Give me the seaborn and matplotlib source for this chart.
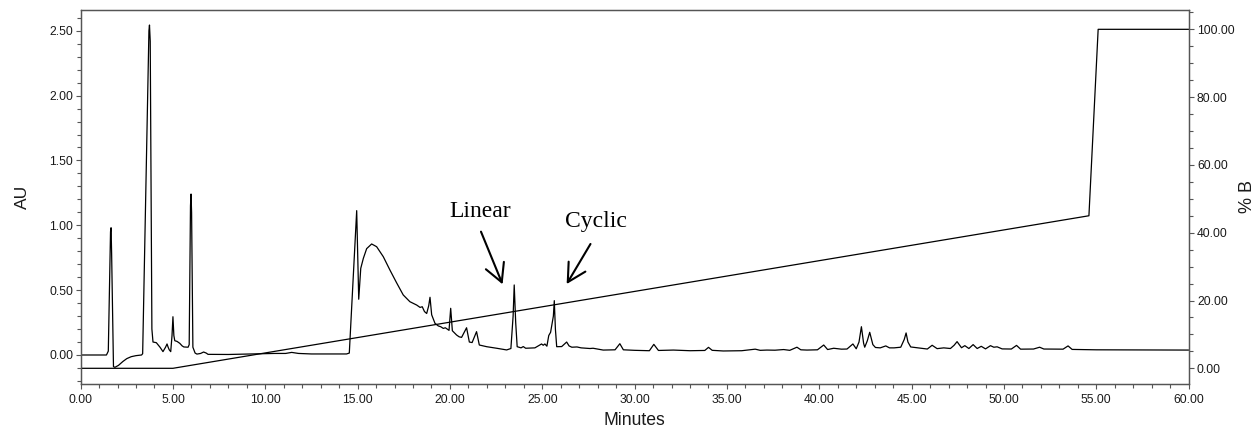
import matplotlib
matplotlib.use("Agg")
import matplotlib.pyplot as plt
import numpy as np
import pandas as pd
import seaborn as sns
from matplotlib.ticker import MultipleLocator, FormatStrFormatter

# ---- data ----
time_min = [
    0.00, 1.40, 1.50, 1.62, 1.65, 1.68, 1.78, 1.86, 2.05, 2.29, 2.50, 2.74, 3.00, 3.30,
    3.36, 3.70, 3.73, 3.77, 3.86, 3.92, 4.10, 4.30, 4.46, 4.60, 4.68, 4.74, 4.80, 4.88,
    4.95, 5.00, 5.05, 5.10, 5.22, 5.37, 5.50, 5.59, 5.82, 5.88, 5.95, 5.98, 6.01, 6.08,
    6.20, 6.30, 6.50, 6.66, 6.80, 6.90, 8.00, 9.35, 10.50, 11.10, 11.43, 11.80, 12.50,
    14.40, 14.55, 14.80, 14.95, 15.00, 15.06, 15.17, 15.31, 15.49, 15.76, 16.03, 16.39,
    16.75, 17.11, 17.47, 17.83, 18.20, 18.38, 18.50, 18.62, 18.74, 18.85, 18.92, 19.01,
    19.19, 19.37, 19.50, 19.64, 19.75, 19.95, 20.04, 20.13, 20.36, 20.50, 20.63, 20.90,
    21.05, 21.20, 21.44, 21.59, 21.99, 22.53, 23.07, 23.30, 23.42, 23.48, 23.56, 23.64,
    23.85, 23.97, 24.10, 24.60, 24.96, 25.05, 25.14, 25.25, 25.35, 25.45, 25.60, 25.65,
    25.71, 25.78, 26.05, 26.32, 26.45, 26.60, 26.88, 27.10, 27.58, 27.75, 28.30, 28.94,
    29.20, 29.39, 30.00, 30.80, 31.04, 31.29, 32.10, 33.00, 33.80, 34.00, 34.20, 34.80,
    35.80, 36.53, 36.80, 37.16, 37.60, 38.07, 38.40, 38.79, 39.00, 39.33, 39.90, 40.24,
    40.45, 40.78, 41.20, 41.50, 41.82, 42.00, 42.15, 42.28, 42.40, 42.46, 42.60, 42.73,
    42.90, 43.04, 43.30, 43.60, 43.80, 44.05, 44.41, 44.60, 44.70, 44.80, 44.95, 45.85,
    46.11, 46.38, 46.74, 47.10, 47.30, 47.46, 47.70, 47.88, 48.10, 48.33, 48.55, 48.77,
    49.00, 49.27, 49.45, 49.63, 49.90, 50.40, 50.68, 50.90, 51.60, 51.93, 52.16, 53.20,
    53.47, 53.69, 55.00, 60.00,
]
absorbance_au = [
    0.000, 0.000, 0.030, 0.950, 0.981, 0.780, -0.090, -0.095, -0.080, -0.050, -0.028, -0.013, -0.005, 0.000,
    0.010, 2.500, 2.544, 2.420, 0.200, 0.100, 0.095, 0.060, 0.026, 0.060, 0.085, 0.060, 0.040, 0.026,
    0.150, 0.295, 0.150, 0.110, 0.105, 0.090, 0.070, 0.062, 0.060, 0.080, 1.150, 1.241, 1.100, 0.060,
    0.015, 0.007, 0.012, 0.023, 0.015, 0.005, 0.004, 0.008, 0.012, 0.012, 0.020, 0.012, 0.008,
    0.008, 0.015, 0.700, 1.113, 0.800, 0.430, 0.668, 0.745, 0.820, 0.856, 0.835, 0.758,
    0.655, 0.557, 0.463, 0.411, 0.385, 0.367, 0.372, 0.335, 0.320, 0.380, 0.445, 0.310,
    0.244, 0.224, 0.218, 0.205, 0.210, 0.190, 0.360, 0.187, 0.154, 0.140, 0.136, 0.210,
    0.100, 0.096, 0.180, 0.077, 0.064, 0.052, 0.039, 0.050, 0.300, 0.540, 0.250, 0.064,
    0.055, 0.065, 0.052, 0.055, 0.085, 0.075, 0.085, 0.068, 0.150, 0.175, 0.300, 0.419,
    0.200, 0.064, 0.065, 0.100, 0.070, 0.060, 0.062, 0.055, 0.050, 0.052, 0.038, 0.040,
    0.087, 0.040, 0.036, 0.033, 0.082, 0.035, 0.038, 0.033, 0.035, 0.059, 0.036, 0.031,
    0.033, 0.045, 0.036, 0.038, 0.037, 0.042, 0.036, 0.060, 0.040, 0.038, 0.040, 0.077,
    0.042, 0.052, 0.045, 0.046, 0.085, 0.048, 0.100, 0.218, 0.090, 0.060, 0.110, 0.175,
    0.080, 0.058, 0.055, 0.070, 0.055, 0.055, 0.060, 0.120, 0.170, 0.100, 0.062, 0.046,
    0.075, 0.049, 0.055, 0.050, 0.075, 0.103, 0.056, 0.072, 0.050, 0.080, 0.050, 0.067,
    0.047, 0.072, 0.060, 0.063, 0.047, 0.046, 0.074, 0.045, 0.046, 0.060, 0.046, 0.045,
    0.070, 0.043, 0.040, 0.038,
]

gradient_time = [0.0, 5.0, 54.6, 55.1, 60.0]
gradient_pct_b = [0.0, 0.0, 45.0, 100.0, 100.0]

x_ticks = [0, 5, 10, 15, 20, 25, 30, 35, 40, 45, 50, 55, 60]
au_ticks = [0.0, 0.5, 1.0, 1.5, 2.0, 2.5]
pct_ticks = [0, 20, 40, 60, 80, 100]

annotation_labels = ["Linear", "Cyclic"]
annotation_text_pos = [(21.63, 1.066), (27.88, 0.989)]
annotation_arrow_start = [(21.68, 0.951), (27.61, 0.856)]
annotation_arrow_tip = [(22.85, 0.545), (26.32, 0.547)]

trace_df = pd.DataFrame({"Minutes": time_min, "AU": absorbance_au})
grad_df = pd.DataFrame({"Minutes": gradient_time, "% B": gradient_pct_b})

# ---- style ----
sns.set_theme(style="ticks")
plt.rcParams["font.family"] = ["Liberation Sans", "DejaVu Sans"]

spine_col = "#555555"
text_col = "#1a1a1a"

fig = plt.figure(figsize=(12.6, 4.29), dpi=100)
ax = fig.add_axes([0.06397, 0.1049, 0.8794, 0.8718])
ax2 = ax.twinx()

sns.lineplot(data=trace_df, x="Minutes", y="AU", ax=ax, color="black",
             linewidth=0.9, estimator=None, sort=False)
sns.lineplot(data=grad_df, x="Minutes", y="% B", ax=ax2, color="black",
             linewidth=0.9, estimator=None, sort=False)

ax.set_xlim(0, 60)
ax.set_ylim(-0.2236, 2.660)
ax2.set_ylim(-4.63, 105.7)

ax.set_xticks(x_ticks)
ax.xaxis.set_minor_locator(MultipleLocator(1))
ax.xaxis.set_major_formatter(FormatStrFormatter("%.2f"))
ax.set_yticks(au_ticks)
ax.yaxis.set_minor_locator(MultipleLocator(0.1))
ax.yaxis.set_major_formatter(FormatStrFormatter("%.2f"))
ax2.set_yticks(pct_ticks)
ax2.yaxis.set_minor_locator(MultipleLocator(5))
ax2.yaxis.set_major_formatter(FormatStrFormatter("%.2f"))

for a in (ax, ax2):
    for s in a.spines.values():
        s.set_visible(True)
        s.set_color(spine_col)
        s.set_linewidth(0.9)
    a.tick_params(which="both", direction="out", color=spine_col, width=0.8,
                  labelsize=8.7, labelcolor=text_col)
    a.tick_params(which="major", length=3.8)
    a.tick_params(which="minor", length=3.0)
    a.grid(False)

ax.tick_params(axis="x", pad=3.2)
ax.tick_params(axis="y", pad=1.5)
ax2.tick_params(axis="y", pad=2.2)

ax.set_xlabel("Minutes", fontsize=12.7, color=text_col, va="center")
ax.xaxis.set_label_coords(0.5, -0.0963)
ax.set_ylabel("AU", fontsize=12.5, color=text_col, va="center", ha="center")
ax.yaxis.set_label_coords(-0.0529, 0.5)
ax2.set_ylabel("% B", fontsize=13, color=text_col, va="center", ha="center", rotation=90)
ax2.yaxis.set_label_coords(1.0531, 0.5)

for lab, tp, st, tip in zip(annotation_labels, annotation_text_pos,
                            annotation_arrow_start, annotation_arrow_tip):
    ax.text(tp[0], tp[1], lab, ha="center", va="baseline", fontsize=17,
            family=["Liberation Serif", "DejaVu Serif"], color="black")
    ax.annotate("", xy=tip, xytext=st,
                arrowprops=dict(arrowstyle="->,head_length=1.3,head_width=0.7",
                                lw=1.5, color="black", shrinkA=0, shrinkB=0,
                                mutation_scale=10))

fig.savefig("out.png", dpi=100)
